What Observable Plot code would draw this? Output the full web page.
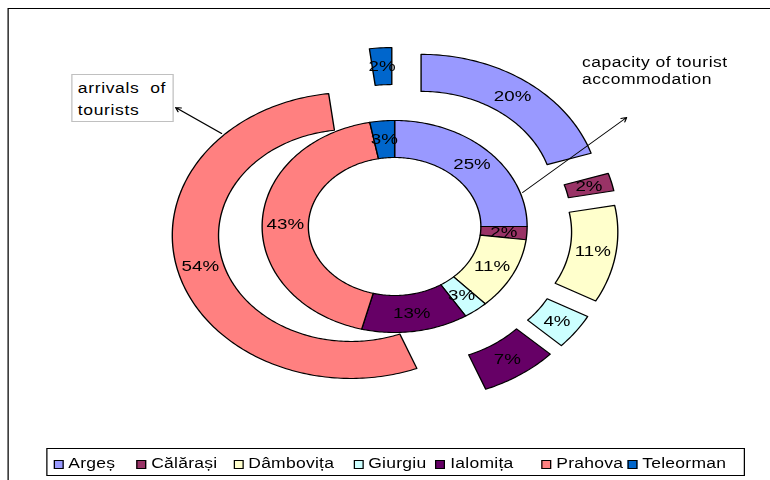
<!DOCTYPE html>
<html>
<head>
<meta charset="utf-8">
<script src="https://cdn.jsdelivr.net/npm/d3@7"></script>
<script src="https://cdn.jsdelivr.net/npm/@observablehq/plot@0.6"></script>
<style>
  html, body { margin: 0; padding: 0; background: #fff; overflow: hidden; }
  #wrap { position: relative; width: 616px; height: 480px; transform: scale(1.25, 1); transform-origin: 0 0;
          font-family: "Liberation Sans", Arial, sans-serif; color: #000; }
  #frame { position: absolute; left: 5.6px; top: 7.5px; width: 700px; height: 520px; border: 1.6px solid #000; }
  #chart { position: absolute; left: 0; top: 0; }
  #note1 { position: absolute; left: 56.8px; top: 74px; width: 82px; height: 48px; border: 1px solid #c0c0c0;
           box-sizing: border-box; font-size: 14px; line-height: 22px; padding: 2px 0 0 4.5px; letter-spacing: 0.5px; background: #fff; }
  #note2 { position: absolute; left: 465.6px; top: 54px; font-size: 14px; line-height: 17px; letter-spacing: 0.4px; }
  #legend { position: absolute; left: 36.8px; top: 448px; width: 559px; height: 28px; border: 1.2px solid #000; box-sizing: border-box; background: #fff; }
  .item { position: absolute; top: 5.5px; font-size: 14px; line-height: 16px; white-space: nowrap; letter-spacing: 0.2px; }
  .sw { display: inline-block; width: 8px; height: 9px; border: 1px solid #000; box-sizing: border-box; margin-right: 4px; vertical-align: -1px; }
</style>
</head>
<body>
<div id="wrap">
  <div id="frame"></div>
  <div id="chart"></div>
  <div id="note1">arrivals&nbsp; of<br>tourists</div>
  <div id="note2">capacity of tourist<br>accommodation</div>
  <div id="legend"></div>
</div>
<script>
// ---- data ----
const categories = ["Argeș", "Călărași", "Dâmbovița", "Giurgiu", "Ialomița", "Prahova", "Teleorman"];
const arrivals = [25, 2, 11, 3, 13, 43, 3];   // inner ring: arrivals of tourists (%)
const capacity = [20, 2, 11, 4, 7, 54, 2];    // outer ring: capacity of tourist accommodation (%)
const colors = ["#9999FF", "#993366", "#FFFFCC", "#CCFFFF", "#660066", "#FF8080", "#0066CC"];

// ---- layout ----
const rings = [
  {name: "arrivals", values: arrivals, r0: 69, r1: 106, explode: 0},
  {name: "capacity", values: capacity, r0: 106, r1: 143, explode: 36}
];
const points = [];
const labels = [];
for (const ring of rings) {
  const total = d3.sum(ring.values);
  let cum = 0;
  ring.values.forEach((v, i) => {
    const a0 = cum / total * 2 * Math.PI;
    cum += v;
    const a1 = cum / total * 2 * Math.PI;
    const mid = (a0 + a1) / 2;
    const ox = ring.explode * Math.sin(mid), oy = ring.explode * Math.cos(mid);
    const id = ring.name + i;
    const n = Math.max(2, Math.ceil((a1 - a0) / (Math.PI / 180)));
    const pts = [];
    for (let k = 0; k <= n; k++) {
      const t = a0 + (a1 - a0) * k / n;
      pts.push({x: ox + ring.r1 * Math.sin(t), y: oy + ring.r1 * Math.cos(t)});
    }
    for (let k = n; k >= 0; k--) {
      const t = a0 + (a1 - a0) * k / n;
      pts.push({x: ox + ring.r0 * Math.sin(t), y: oy + ring.r0 * Math.cos(t)});
    }
    pts.push({...pts[0]});
    for (const p of pts) points.push({...p, id, cat: categories[i]});
    const rm = (ring.r0 + ring.r1) / 2;
    labels.push({x: ox + rm * Math.sin(mid), y: oy + rm * Math.cos(mid), text: v + "%"});
  });
}
// annotation arrows (from ring to label box)
const arrows = [
  {x1: -138.4, y1: 93, x2: -175.2, y2: 119},
  {x1: 102.4, y1: 34, x2: 185.6, y2: 109}
];

const chart = Plot.plot({
  width: 616,
  height: 440,
  margin: 0,
  x: {domain: [-315.2, 300.8], axis: null},
  y: {domain: [-214, 226], axis: null},
  color: {domain: categories, range: colors},
  style: {fontFamily: "'Liberation Sans', Arial, sans-serif", background: "transparent", overflow: "visible"},
  marks: [
    Plot.line(points, {x: "x", y: "y", z: "id", fill: "cat", stroke: "#000", strokeWidth: 1.1, curve: "linear", strokeLinejoin: "round"}),
    Plot.text(labels, {x: "x", y: "y", text: "text", fontSize: 15, fill: "#000"}),
    Plot.arrow(arrows, {x1: "x1", y1: "y1", x2: "x2", y2: "y2", stroke: "#000", strokeWidth: 1, headLength: 7, inset: 0})
  ]
});
document.getElementById("chart").appendChild(chart);

// legend
const legendX = [4.8, 71.2, 148.8, 244.8, 310.4, 395.2, 464];
const legend = document.getElementById("legend");
categories.forEach((c, i) => {
  const el = document.createElement("div");
  el.className = "item";
  el.style.left = legendX[i] + "px";
  el.innerHTML = `<span class="sw" style="background:${colors[i]}"></span>${c}`;
  legend.appendChild(el);
});
</script>
</body>
</html>
